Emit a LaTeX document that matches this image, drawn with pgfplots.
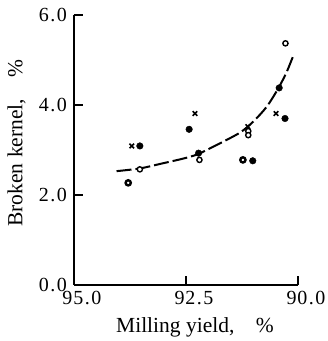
\documentclass[border=0pt]{standalone}
\usepackage{fontspec}
\setmainfont{Liberation Serif}
\usepackage{pgfplots}
\pgfplotsset{compat=1.18}
\newcommand\tkd[1]{\makebox[11pt]{#1}}
\newcommand\tkp{\makebox[7pt]{.}}
\begin{document}
\begin{tikzpicture}
\begin{axis}[
  scale only axis, width=224pt, height=270pt,
  x dir=reverse, xmin=90, xmax=95, ymin=0, ymax=6,
  axis x line=bottom, axis y line=left,
  axis line style={-, line width=1.4pt},
  xtick={95,92.5,90},
  xticklabels={\tkd9\tkd5\tkp\tkd0, \tkd9\tkd2\tkp\tkd5, \tkd9\tkd0\tkp\tkd0},
  ytick={0,2,4,6},
  yticklabels={\tkd0\tkp\tkd0, \tkd2\tkp\tkd0, \tkd4\tkp\tkd0, \tkd6\tkp\tkd0},
  tick align=inside, major tick length=9pt,
  tick style={line width=1.4pt, black},
  tick label style={font=\fontsize{20}{20}\selectfont},
  xticklabel style={xshift=8pt, yshift=-3pt},
  yticklabel style={xshift=-3pt},
  xlabel={Milling yield,\hspace{1em}\%},
  ylabel={Broken kernel,\hspace{1em}\%},
  label style={font=\fontsize{21.5}{21.5}\selectfont},
  xlabel style={xshift=9pt, yshift=-6pt},
  ylabel style={at={(ticklabel cs:0.526)}, yshift=6pt},
  clip=false,
]
\coordinate (LL) at (axis cs:95,0);
\coordinate (UR) at (axis cs:90,6);
% fitted curve
\addplot[black, line width=2pt, dash pattern=on 15pt off 4pt, smooth] coordinates {
  (94.05,2.53) (93.53,2.59) (93.08,2.69) (92.56,2.81) (92.23,2.91)
  (91.74,3.15) (91.29,3.39) (91.00,3.63) (90.70,3.96) (90.44,4.37)
  (90.25,4.74) (90.10,5.11)};
% crosses
\addplot[only marks, mark=x, mark size=3.2pt, black, line width=1.6pt] coordinates {
  (93.71,3.09) (92.30,3.81) (91.12,3.52) (90.49,3.81)};
% filled dots
\addplot[only marks, mark=*, mark size=3.3pt, black] coordinates {
  (93.53,3.09) (92.43,3.46) (92.22,2.93) (91.01,2.76) (90.42,4.38) (90.29,3.70)};
% open circles
\addplot[only marks, mark=*, mark size=2.6pt, mark options={fill=white, draw=black, line width=1.4pt}] coordinates {
  (93.53,2.57) (92.20,2.78) (91.11,3.42) (91.11,3.33) (90.28,5.37)};
% ringed dots
\addplot[only marks, mark=*, mark size=2.6pt, mark options={fill=white, draw=black, line width=2.4pt}] coordinates {
  (93.79,2.27) (91.23,2.78)};
\end{axis}
\pgfresetboundingbox
\path ([shift={(-74pt,-56pt)}]LL) rectangle ([shift={(29.7pt,15pt)}]UR);
\end{tikzpicture}
\end{document}
